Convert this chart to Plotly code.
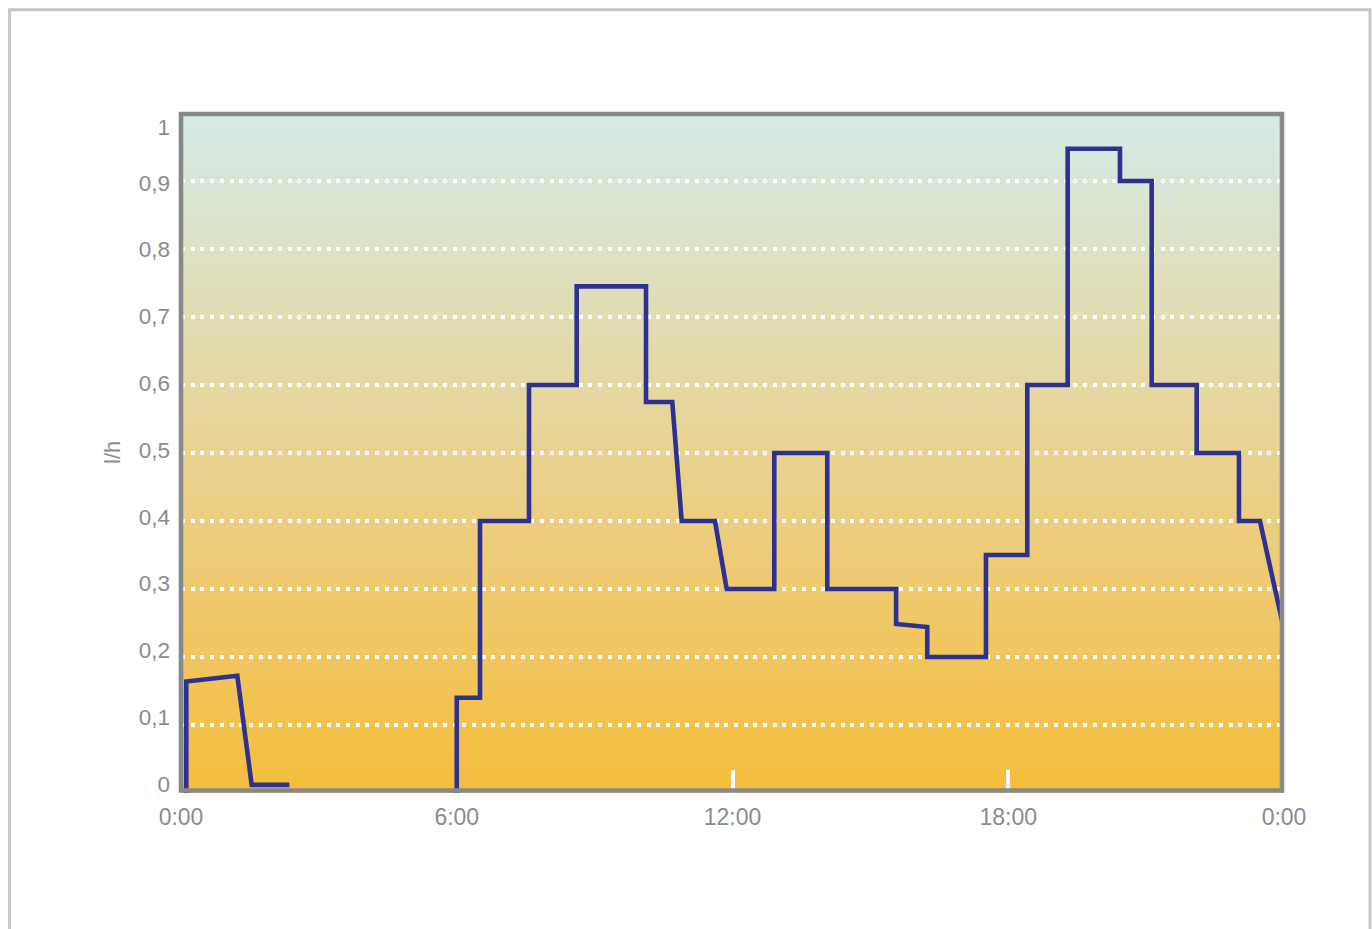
import plotly.graph_objects as go

# Flow rate over one day: hour of day -> l/h
night_hours = [0.115, 0.115, 1.225, 1.538, 2.357]
night_flow = [0.0, 0.164, 0.1725, 0.012, 0.012]

day_hours = [6.0, 6.0, 6.506, 6.506, 7.572, 7.572, 8.61, 8.61, 10.118, 10.118,
             10.69, 10.894, 11.619, 11.873, 12.909, 12.909, 14.062, 14.062, 15.56, 15.56,
             16.238, 16.238, 17.515, 17.515, 18.414, 18.414, 19.293, 19.293, 20.431, 20.431,
             21.121, 21.121, 22.10, 22.10, 23.02, 23.02, 23.477, 24.0]
day_flow = [0.0, 0.14, 0.14, 0.40, 0.40, 0.60, 0.60, 0.745, 0.745, 0.575,
            0.575, 0.40, 0.40, 0.30, 0.30, 0.50, 0.50, 0.30, 0.30, 0.2485,
            0.244, 0.20, 0.20, 0.35, 0.35, 0.60, 0.60, 0.9475, 0.9475, 0.90,
            0.90, 0.60, 0.60, 0.50, 0.50, 0.40, 0.40, 0.24]

time_ticks = [0, 6, 12, 18, 24]
time_labels = ["0:00", "6:00", "12:00", "18:00", "0:00"]
grid_values = [0.1, 0.2, 0.3, 0.4, 0.5, 0.6, 0.7, 0.8, 0.9]
label_values = [0, 0.1, 0.2, 0.3, 0.4, 0.5, 0.6, 0.7, 0.8, 0.9]
label_texts = ["0", "0,1", "0,2", "0,3", "0,4", "0,5", "0,6", "0,7", "0,8", "0,9"]
top_value = [1]
top_text = ["1"]

W, H = 1372, 929
PLOT_L, PLOT_R, PLOT_T, PLOT_B = 181, 1284, 113, 793
PW, PH = PLOT_R - PLOT_L, PLOT_B - PLOT_T


def px(x):
    return (x - PLOT_L) / PW


def py(y):
    return (PLOT_B - y) / PH


TEXT_GREY = "#8b8b8d"
FONT = "Liberation Sans, Arial, sans-serif"
LINE_BLUE = "#2e3190"

fig = go.Figure()
for xs, ys in ((night_hours, night_flow), (day_hours, day_flow)):
    fig.add_trace(go.Scatter(
        x=xs, y=ys, mode="lines",
        line=dict(color=LINE_BLUE, width=4.6),
        hoverinfo="skip", showlegend=False,
    ))

# empty carriers so the value-label axes get drawn
for axis_id, vals in (("y2", label_values), ("y3", top_value)):
    fig.add_trace(go.Scatter(
        x=[None] * len(vals), y=vals, yaxis=axis_id, mode="markers",
        marker=dict(opacity=0), hoverinfo="skip", showlegend=False,
    ))

# vertical gradient behind the plot area (orange at the bottom, pale teal on top)
stops = [(0.0, (245, 189, 60)), (0.25, (240, 199, 102)), (0.5, (233, 211, 146)),
         (0.75, (223, 223, 188)), (1.0, (213, 234, 231))]


def grad(t):
    for (t0, c0), (t1, c1) in zip(stops[:-1], stops[1:]):
        if t <= t1:
            f = (t - t0) / (t1 - t0)
            return tuple(round(a + (b - a) * f) for a, b in zip(c0, c1))
    return stops[-1][1]


shapes = []
N = 170
for i in range(N):
    y0 = i / N
    y1 = min(1.0, (i + 1.8) / N)
    r, g, b = grad((i + 0.5) / N)
    shapes.append(dict(type="rect", xref="paper", yref="paper",
                       x0=0, x1=1, y0=y0, y1=y1, layer="below",
                       line=dict(width=0), fillcolor=f"rgb({r},{g},{b})"))

# plot frame
shapes.append(dict(type="rect", xref="paper", yref="paper",
                   x0=px(181), x1=px(1282), y0=py(790.5), y1=py(114),
                   layer="above", line=dict(color="#88888a", width=4.6),
                   fillcolor="rgba(0,0,0,0)"))
# outer page frame
shapes.append(dict(type="rect", xref="paper", yref="paper",
                   x0=px(9.5), x1=px(1370), y0=py(960), y1=py(9.8),
                   layer="above", line=dict(color="#c6c6c8", width=3),
                   fillcolor="rgba(0,0,0,0)"))

# label axes: value labels 0 .. 0,9 sit at pixel 784 - 668 * v, label 1 at 127.5
lab_base, lab_step = 784.0, 668.0
r0 = -(PLOT_B - lab_base) / lab_step
r1 = r0 + PH / lab_step
top_pix = 127.5
t1 = PH / (PLOT_B - top_pix)

label_axis = dict(overlaying="y", side="left", showgrid=False, zeroline=False,
                  showline=False, ticks="", ticklabelstandoff=10,
                  tickfont=dict(size=22.5, color=TEXT_GREY, family=FONT),
                  fixedrange=True)

fig.update_layout(
    width=W, height=H, autosize=False,
    margin=dict(l=PLOT_L, r=W - PLOT_R, t=PLOT_T, b=H - PLOT_B, pad=0),
    paper_bgcolor="white", plot_bgcolor="rgba(0,0,0,0)",
    font=dict(family=FONT, color=TEXT_GREY),
    shapes=shapes,
    xaxis=dict(range=[0, 24], tickvals=time_ticks, ticktext=time_labels,
               showgrid=False, zeroline=False, showline=False,
               ticks="inside", ticklen=23, tickwidth=4, tickcolor="white",
               layer="below traces", ticklabelstandoff=8,
               tickfont=dict(size=23, color=TEXT_GREY, family=FONT),
               fixedrange=True),
    yaxis=dict(range=[0, 1], tickvals=grid_values, showticklabels=False,
               showgrid=True, gridcolor="white", gridwidth=4,
               griddash="4px,5.7px", zeroline=False, showline=False,
               ticks="", fixedrange=True),
    yaxis2=dict(label_axis, range=[r0, r1], tickvals=label_values,
                ticktext=label_texts),
    yaxis3=dict(label_axis, range=[0, t1], tickvals=top_value,
                ticktext=top_text),
    annotations=[dict(text="l/h", xref="paper", yref="paper",
                      x=px(112), y=py(453), showarrow=False, textangle=-90,
                      font=dict(size=22, color=TEXT_GREY, family=FONT),
                      xanchor="center", yanchor="middle")],
)

fig.write_html("out.html", config={"displayModeBar": False})
